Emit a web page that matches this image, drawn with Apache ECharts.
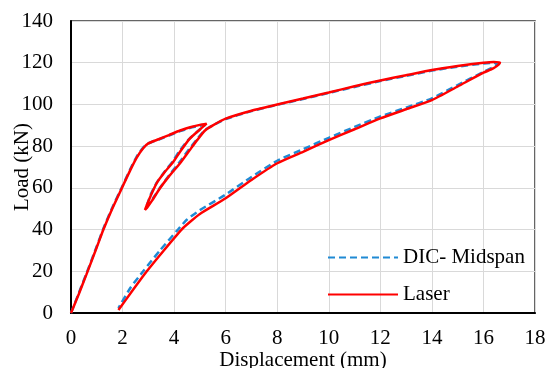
<!DOCTYPE html>
<html>
<head>
<meta charset="utf-8">
<script src="https://cdn.jsdelivr.net/npm/echarts@6/dist/echarts.min.js"></script>
<style>
  html, body { margin: 0; padding: 0; background: #fff; }
  #chart { width: 546px; height: 368px; }
</style>
</head>
<body>
<div id="chart"></div>
<script>
// values (displacement mm, load kN)
// path: loading, first unload/reload loop, loading to peak, final unload
const dicX = [0, 0.3, 0.6, 1.0, 1.25, 1.6, 1.97, 2.3, 2.55, 2.8, 3.0,
  3.4, 3.8, 4.23, 4.7, 5.0, 5.2,
  4.95, 4.55, 4.2, 3.95, 3.6, 3.32, 3.1, 2.97, 2.9,
  2.98, 3.18, 3.48, 3.82, 4.22, 4.58, 4.9, 5.2, 5.55,
  6.0, 7, 8, 9, 10, 11, 12, 13, 14, 15, 16, 16.4, 16.55,
  16.45, 16.2, 16, 15, 14, 13, 12, 11, 10, 9, 8, 7, 6, 5, 4.5, 4.15, 3.45, 2.8, 2.3, 1.84];
const dicY = [0, 9.5, 19, 32, 40.3, 50.5, 60.2, 69, 75, 79.3, 81.3,
  83.2, 85.1, 87.2, 89, 89.8, 90.2,
  87.5, 83, 77.5, 72.8, 67.2, 62.4, 57, 52.5, 50,
  51.5, 55, 60.5, 66.2, 72.5, 78.5, 83.5, 87.8, 90.3,
  93, 96.8, 99.8, 102.6, 105.5, 108.4, 111.2, 113.7, 116.2, 118.1, 119.6, 120, 119.6,
  118.4, 116.8, 115.6, 109.3, 102.9, 98.5, 94.2, 89.2, 84, 78.5, 73, 65.2, 56.8, 49.3, 44.8, 40, 30, 20, 12, 2.3];

const laserX = [0, 0.3, 0.6, 1.0, 1.25, 1.6, 1.97, 2.3, 2.55, 2.8, 3.0,
  3.4, 3.8, 4.23, 4.7, 5.0, 5.26,
  5.0, 4.6, 4.23, 3.97, 3.6, 3.32, 3.1, 2.95, 2.87,
  2.95, 3.15, 3.45, 3.8, 4.23, 4.6, 4.9, 5.2, 5.52,
  6.0, 7, 8, 9, 10, 11, 12, 13, 14, 15, 16, 16.4, 16.64,
  16.6, 16.38, 16, 15, 14, 13, 12, 11, 10, 9, 8, 7, 6, 5, 4.6, 4.29, 3.6, 2.94, 2.4, 1.84];
const laserY = [0, 9, 18.5, 31.5, 39.8, 50, 59.8, 68.5, 74.5, 79, 81.3,
  83.3, 85.3, 87.5, 89.3, 90.2, 90.8,
  88, 83.5, 77.3, 72.5, 67, 62.2, 56.5, 52, 49.4,
  50.5, 54, 59.8, 65.5, 71.8, 78, 83, 87.5, 90.1,
  93.2, 97, 100, 102.8, 105.7, 108.7, 111.5, 114, 116.5, 118.4, 120, 120.4, 120.2,
  119.2, 117.3, 115.2, 108.6, 102.1, 97.7, 93.3, 88.1, 82.9, 77.3, 71.8, 63.8, 55, 47.5, 43.5, 40, 30, 20, 11, 1.4];

const seriesNames = ['DIC- Midspan', 'Laser'];

const zip = (xs, ys) => xs.map((x, i) => [x, ys[i]]);
const font = '"Liberation Serif", "Times New Roman", serif';

const chart = echarts.init(document.getElementById('chart'));

const axisCommon = {
  type: 'value',
  axisLine: { show: true, lineStyle: { color: '#000', width: 2 } },
  axisTick: { show: false },
  splitLine: { show: true, lineStyle: { color: '#d9d9d9', width: 1 } },
  nameLocation: 'middle',
  nameMoveOverlap: false,
  nameTextStyle: { fontFamily: font, fontSize: 21, color: '#000' },
  axisLabel: { fontFamily: font, fontSize: 21, color: '#000' }
};

chart.setOption({
  animation: false,
  grid: {
    left: 71, right: 11, top: 21, bottom: 55,
    containLabel: false,
    outerBoundsMode: 'none',
    show: true, borderColor: '#333', borderWidth: 1.5
  },
  legend: {
    orient: 'vertical',
    left: 322,
    top: 242,
    itemWidth: 70,
    itemHeight: 14,
    itemGap: 16,
    itemStyle: { opacity: 0 },
    textStyle: { fontFamily: font, fontSize: 21, color: '#000' },
    data: seriesNames
  },
  xAxis: Object.assign({}, axisCommon, {
    min: 0, max: 18, interval: 2,
    name: 'Displacement (mm)',
    nameGap: 37,
    axisLabel: Object.assign({}, axisCommon.axisLabel, { margin: 15 })
  }),
  yAxis: Object.assign({}, axisCommon, {
    min: 0, max: 140, interval: 20,
    name: 'Load (kN)',
    nameGap: 38,
    axisLabel: Object.assign({}, axisCommon.axisLabel, { margin: 18 })
  }),
  series: [
    {
      name: seriesNames[0],
      type: 'line',
      data: zip(dicX, dicY),
      showSymbol: false,
      symbol: 'none',
      smooth: 0.2,
      lineStyle: { color: '#1f8ad4', width: 2.5, type: [7, 4] },
      itemStyle: { color: '#1f8ad4' }
    },
    {
      name: seriesNames[1],
      type: 'line',
      data: zip(laserX, laserY),
      showSymbol: false,
      symbol: 'none',
      smooth: 0.2,
      lineStyle: { color: '#ff0000', width: 2.5 },
      itemStyle: { color: '#ff0000' }
    }
  ]
});
</script>
</body>
</html>
